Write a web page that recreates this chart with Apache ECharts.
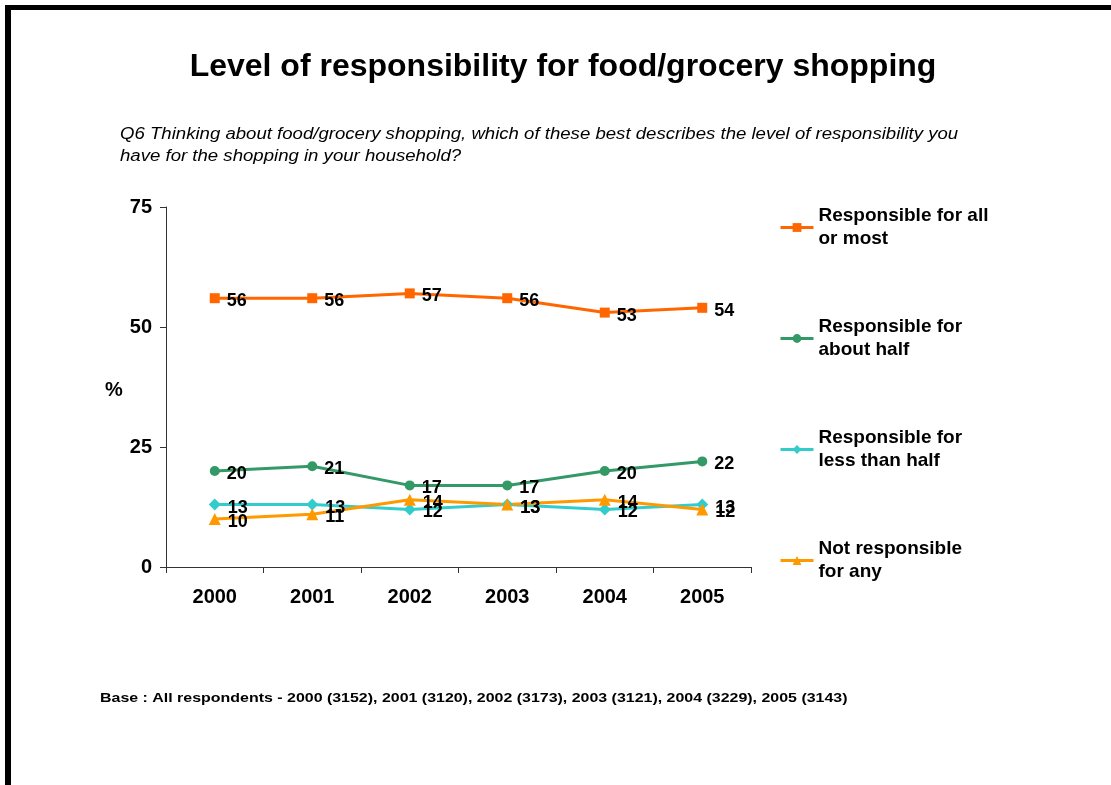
<!DOCTYPE html>
<html>
<head>
<meta charset="utf-8">
<script src="https://cdn.jsdelivr.net/npm/echarts@6/dist/echarts.min.js"></script>
<style>
html,body{margin:0;padding:0;background:#fff;}
#chart{width:1111px;height:785px;}
</style>
</head>
<body>
<div id="chart"></div>
<script>
var years = ['2000', '2001', '2002', '2003', '2004', '2005'];
var allOrMost = [56, 56, 57, 56, 53, 54];
var aboutHalf = [20, 21, 17, 17, 20, 22];
var lessThanHalf = [13, 13, 12, 13, 12, 13];
var notResponsible = [10, 11, 14, 13, 14, 12];
var seriesNames = ['Responsible for all\nor most', 'Responsible for\nabout half', 'Responsible for\nless than half', 'Not responsible\nfor any'];
var yTicks = {min: 0, max: 75, interval: 25};

var FONT = '"Liberation Sans", Arial, sans-serif';
var colors = ['#FF6600', '#339966', '#33CCCC', '#FF9900'];
var symbols = ['rect', 'circle', 'diamond', 'triangle'];
var symbolSizes = [10, 10, 12, 12];
var dataSets = [allOrMost, aboutHalf, lessThanHalf, notResponsible];

var series = dataSets.map(function (d, i) {
  return {
    name: seriesNames[i],
    type: 'line',
    data: d,
    symbol: symbols[i],
    symbolSize: symbolSizes[i],
    showAllSymbol: true,
    lineStyle: {color: colors[i], width: 3},
    itemStyle: {color: colors[i]},
    label: {
      show: true,
      position: 'right',
      distance: 7,
      offset: [0, 3],
      color: '#000',
      fontFamily: FONT,
      fontWeight: 'bold',
      fontSize: 18
    },
    emphasis: {disabled: true},
    animation: false
  };
});

var chart = echarts.init(document.getElementById('chart'));
chart.setOption({
  animation: false,
  backgroundColor: '#fff',
  grid: {left: 166, right: 360, top: 207, bottom: 218, containLabel: false},
  xAxis: {
    type: 'category',
    data: years,
    boundaryGap: true,
    axisLine: {show: true, lineStyle: {color: '#333', width: 1}},
    axisTick: {show: true, length: 6, lineStyle: {color: '#333'}},
    axisLabel: {margin: 20, color: '#000', fontFamily: FONT, fontWeight: 'bold', fontSize: 20},
    splitLine: {show: false}
  },
  yAxis: {
    type: 'value',
    min: yTicks.min,
    max: yTicks.max,
    interval: yTicks.interval,
    axisLine: {show: true, lineStyle: {color: '#333', width: 1}},
    axisTick: {show: true, length: 6, lineStyle: {color: '#333'}},
    axisLabel: {margin: 14, color: '#000', fontFamily: FONT, fontWeight: 'bold', fontSize: 20},
    splitLine: {show: false}
  },
  legend: {
    orient: 'vertical',
    left: 774,
    top: 188,
    itemGap: 42,
    itemWidth: 33,
    itemHeight: 11,
    data: seriesNames,
    lineStyle: {width: 3},
    textStyle: {
      color: '#000',
      fontFamily: FONT,
      fontWeight: 'bold',
      fontSize: 19,
      lineHeight: 23,
      padding: [23, 0, 0, 0]
    },
    selectedMode: false
  },
  series: series,
  graphic: [
    {type: 'rect', shape: {x: 5, y: 5, width: 1106, height: 5}, style: {fill: '#000'}},
    {type: 'rect', shape: {x: 5, y: 5, width: 6, height: 780}, style: {fill: '#000'}},
    {type: 'text', x: 563, y: 67, style: {text: 'Level of responsibility for food/grocery shopping', font: 'bold 32px ' + FONT, fill: '#000', align: 'center', verticalAlign: 'middle'}},
    {type: 'text', x: 120, y: 135, scaleX: 1.162, style: {text: 'Q6 Thinking about food/grocery shopping, which of these best describes the level of responsibility you', font: 'italic 16px ' + FONT, fill: '#000', align: 'left', verticalAlign: 'middle'}},
    {type: 'text', x: 120, y: 157, scaleX: 1.162, style: {text: 'have for the shopping in your household?', font: 'italic 16px ' + FONT, fill: '#000', align: 'left', verticalAlign: 'middle'}},
    {type: 'text', x: 105, y: 390, style: {text: '%', font: 'bold 20px ' + FONT, fill: '#000', align: 'left', verticalAlign: 'middle'}},
    {type: 'text', x: 100, y: 698, scaleX: 1.227, style: {text: 'Base : All respondents - 2000 (3152), 2001 (3120), 2002 (3173), 2003 (3121), 2004 (3229), 2005 (3143)', font: 'bold 13px ' + FONT, fill: '#000', align: 'left', verticalAlign: 'middle'}}
  ]
});
</script>
</body>
</html>
